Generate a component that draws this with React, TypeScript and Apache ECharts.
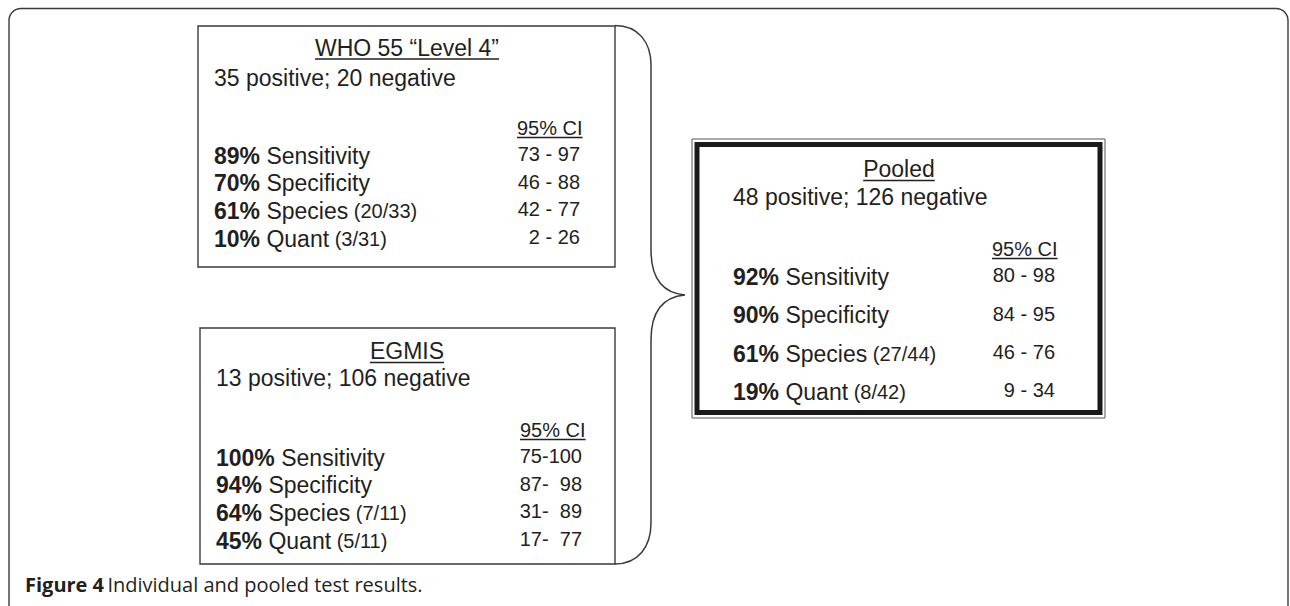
import React, { useEffect, useRef } from 'react';
import * as echarts from 'echarts';

// ---------- data ----------
const whoTitle = 'WHO 55 “Level 4”';
const whoCounts = '35 positive; 20 negative';
const whoPercents = ['89%', '70%', '61%', '10%'];
const whoMeasures = ['Sensitivity', 'Specificity', 'Species', 'Quant'];
const whoFractions = ['', '', '(20/33)', '(3/31)'];
const whoCI = ['73 - 97', '46 - 88', '42 - 77', '2 - 26'];

const egmisTitle = 'EGMIS';
const egmisCounts = '13 positive; 106 negative';
const egmisPercents = ['100%', '94%', '64%', '45%'];
const egmisMeasures = ['Sensitivity', 'Specificity', 'Species', 'Quant'];
const egmisFractions = ['', '', '(7/11)', '(5/11)'];
const egmisCI = ['75-100', '87-  98', '31-  89', '17-  77'];

const pooledTitle = 'Pooled';
const pooledCounts = '48 positive; 126 negative';
const pooledPercents = ['92%', '90%', '61%', '19%'];
const pooledMeasures = ['Sensitivity', 'Specificity', 'Species', 'Quant'];
const pooledFractions = ['', '', '(27/44)', '(8/42)'];
const pooledCI = ['80 - 98', '84 - 95', '46 - 76', '9 - 34'];

const ciHeader = '95% CI';
const captionLabel = 'Figure 4';
const captionText = 'Individual and pooled test results.';

// ---------- styles ----------
const FONT = '"Liberation Sans", Arial, Helvetica, sans-serif';
const CAP_FONT = '"Open Sans", "Noto Sans", sans-serif';
const INK = '#231f20';
const LINE = '#3a3a3a';
const MAIN = 23;
const SMALL = 20;

const BRACE_D =
  'M 615 25.5 C 638 25.5 651 42 651 65 L 651 250 C 651 278 662 293 685 295 ' +
  'C 662 297 651 312 651 340 L 651 523 C 651 547 638 564 615 564';

let measureCtx: CanvasRenderingContext2D | null = null;
function textWidth(str: string, size: number, family: string, weight = 'normal') {
  if (!measureCtx) measureCtx = document.createElement('canvas').getContext('2d');
  if (!measureCtx) return str.length * size * 0.5;
  measureCtx.font = `${weight} ${size}px ${family}`;
  return measureCtx.measureText(str).width;
}

type Layout = {
  titleX: number; titleY: number; countsY: number; textX: number;
  ciX: number; ciRight: number; ciHeadY: number; rowY: number[];
};

function panelTexts(
  title: string, counts: string, percents: string[], measures: string[],
  fractions: string[], ci: string[], L: Layout
) {
  const els: any[] = [];
  const tw = textWidth(title, MAIN, FONT);
  els.push({
    type: 'text', x: L.titleX, y: L.titleY,
    style: { text: title, fontSize: MAIN, fontFamily: FONT, fill: INK, align: 'center', verticalAlign: 'middle' },
  });
  els.push({
    type: 'line', shape: { x1: L.titleX - tw / 2, y1: L.titleY + 11.5, x2: L.titleX + tw / 2, y2: L.titleY + 11.5 },
    style: { stroke: INK, lineWidth: 1.4 },
  });
  els.push({
    type: 'text', x: L.textX, y: L.countsY,
    style: { text: counts, fontSize: MAIN, fontFamily: FONT, fill: INK, align: 'left', verticalAlign: 'middle' },
  });
  const cw = textWidth(ciHeader, SMALL, FONT);
  els.push({
    type: 'text', x: L.ciX, y: L.ciHeadY,
    style: { text: ciHeader, fontSize: SMALL, fontFamily: FONT, fill: INK, align: 'left', verticalAlign: 'middle' },
  });
  els.push({
    type: 'line', shape: { x1: L.ciX, y1: L.ciHeadY + 9.5, x2: L.ciX + cw, y2: L.ciHeadY + 9.5 },
    style: { stroke: INK, lineWidth: 1.3 },
  });
  percents.forEach((p, i) => {
    const frac = fractions[i] ? `{f| ${fractions[i]}}` : '';
    els.push({
      type: 'text', x: L.textX, y: L.rowY[i],
      style: {
        text: `{p|${p}}{m| ${measures[i]}}${frac}`,
        align: 'left', verticalAlign: 'middle', fill: INK,
        rich: {
          p: { fontSize: MAIN, fontFamily: FONT, fontWeight: 'bold', fill: INK, lineHeight: 26, verticalAlign: 'bottom' },
          m: { fontSize: MAIN, fontFamily: FONT, fill: INK, lineHeight: 26, verticalAlign: 'bottom' },
          f: { fontSize: SMALL, fontFamily: FONT, fill: INK, lineHeight: 26, verticalAlign: 'bottom', padding: [0, 0, 1, 0] },
        },
      },
    });
    els.push({
      type: 'text', x: L.ciRight, y: L.rowY[i],
      style: { text: ci[i], fontSize: SMALL, fontFamily: FONT, fill: INK, align: 'right', verticalAlign: 'middle' },
    });
  });
  return els;
}

export default function App() {
  const ref = useRef<HTMLDivElement>(null);
  useEffect(() => {
    if (!ref.current) return;
    try {
      echarts.graphic.registerShape('brace', echarts.graphic.extendPath(BRACE_D, {}) as any);
    } catch (e) { /* already registered */ }
    const chart = echarts.init(ref.current, undefined, { renderer: 'svg' });

    const graphic: any[] = [];
    // outer frame
    graphic.push({
      type: 'rect', shape: { x: 9, y: 8.5, width: 1279, height: 620, r: 12 },
      style: { fill: 'none', stroke: LINE, lineWidth: 1.4 },
    });
    // WHO box
    graphic.push({
      type: 'rect', shape: { x: 198, y: 26, width: 417, height: 241 },
      style: { fill: '#fff', stroke: LINE, lineWidth: 1.4 },
    });
    graphic.push(...panelTexts(whoTitle, whoCounts, whoPercents, whoMeasures, whoFractions, whoCI, {
      titleX: 407, titleY: 47.5, countsY: 78, textX: 214, ciX: 517, ciRight: 580, ciHeadY: 128,
      rowY: [154, 181.5, 209, 237],
    }));
    // EGMIS box
    graphic.push({
      type: 'rect', shape: { x: 200, y: 328, width: 415, height: 236 },
      style: { fill: '#fff', stroke: LINE, lineWidth: 1.4 },
    });
    graphic.push(...panelTexts(egmisTitle, egmisCounts, egmisPercents, egmisMeasures, egmisFractions, egmisCI, {
      titleX: 407, titleY: 351, countsY: 378, textX: 216, ciX: 520, ciRight: 582, ciHeadY: 430,
      rowY: [456, 483.5, 511, 539],
    }));
    // brace
    graphic.push({
      type: 'brace', x: 0, y: 0,
      style: { fill: 'none', stroke: LINE, lineWidth: 1.5 },
    });
    // Pooled box (double border)
    graphic.push({
      type: 'rect', shape: { x: 692, y: 139, width: 413, height: 279 },
      style: { fill: '#fff', stroke: '#555', lineWidth: 1 },
    });
    graphic.push({
      type: 'rect', shape: { x: 697, y: 144.5, width: 403, height: 268 },
      style: { fill: '#fff', stroke: '#1a1a1a', lineWidth: 5 },
    });
    graphic.push(...panelTexts(pooledTitle, pooledCounts, pooledPercents, pooledMeasures, pooledFractions, pooledCI, {
      titleX: 899, titleY: 169, countsY: 197, textX: 733, ciX: 992, ciRight: 1055, ciHeadY: 249,
      rowY: [275, 313.5, 352, 390],
    }));
    // caption
    graphic.push({
      type: 'text', x: 25, y: 584,
      style: {
        text: `{b|${captionLabel}} {r|${captionText}}`,
        align: 'left', verticalAlign: 'middle', fill: INK,
        rich: {
          b: { fontSize: 20, fontFamily: CAP_FONT, fontWeight: 'bold', fill: INK, lineHeight: 24 },
          r: { fontSize: 20, fontFamily: CAP_FONT, fill: INK, lineHeight: 24 },
        },
      },
    });

    chart.setOption({ animation: false, backgroundColor: '#ffffff', graphic });
    return () => chart.dispose();
  }, []);
  return (
    <div
      ref={ref}
      style={{ position: 'absolute', left: 0, top: 0, width: 1290, height: 606, background: '#fff' }}
    />
  );
}
